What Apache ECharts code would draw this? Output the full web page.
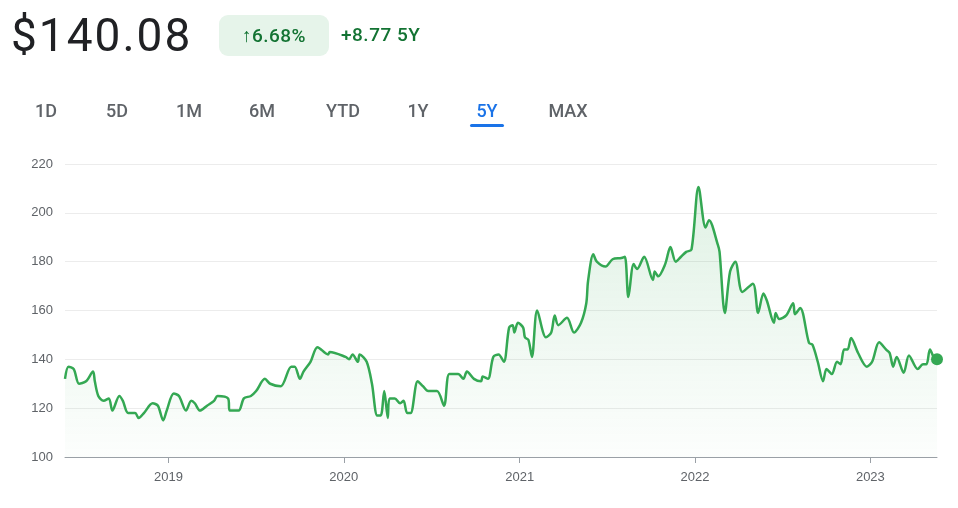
<!DOCTYPE html>
<html>
<head>
<meta charset="UTF-8">
<title>5Y price</title>
<script src="https://cdn.jsdelivr.net/npm/echarts@6/dist/echarts.min.js"></script>
<style>
body { margin: 0; background: #fff; font-family: Roboto, "Noto Sans", sans-serif; }
#wrap { position: relative; width: 958px; height: 508px; overflow: hidden; }
#chart { position: absolute; left: 0; top: 0; width: 958px; height: 508px; }
.abs { position: absolute; white-space: nowrap; }
#price { left: 11px; top: 8px; font-size: 46px; color: #202124; letter-spacing: 2px; }
#badge { left: 219px; top: 15px; width: 110px; height: 41px; background: #e6f4ea; border-radius: 9px;
  color: #137333; font-size: 19px; font-weight: 500; line-height: 41px; text-align: center; letter-spacing: 0.5px; }
#chg { left: 341px; top: 23px; font-size: 19px; font-weight: 500; color: #137333; letter-spacing: 0.5px; }
.tab { top: 100px; font-size: 18px; font-weight: 500; color: #5f6368; transform: translateX(-50%); }
.tab.on { color: #1a73e8; }
#ul { left: 470px; top: 124px; width: 34px; height: 3px; background: #1a73e8; border-radius: 2px; }
</style>
</head>
<body>
<div id="wrap">
<div id="chart"></div>
<div class="abs" id="price">$140.08</div>
<div class="abs" id="badge">↑6.68%</div>
<div class="abs" id="chg">+8.77 5Y</div>
<div id="tabs"></div>
<div class="abs" id="ul"></div>
</div>
<script>
// time of each reading, as decimal years
var years = [2018.41,2018.43,2018.46,2018.49,2018.53,2018.57,2018.58,2018.60,2018.63,2018.66,2018.68,2018.72,2018.74,2018.77,2018.81,2018.83,2018.86,2018.91,2018.94,2018.97,2018.99,
2019.03,2019.06,2019.10,2019.13,2019.15,2019.18,2019.22,2019.26,2019.28,2019.34,2019.35,2019.40,2019.43,2019.47,2019.50,2019.55,2019.58,2019.64,2019.70,2019.72,2019.75,2019.77,2019.81,2019.85,2019.91,2019.92,2020.01,
2020.03,2020.05,2020.08,2020.09,2020.13,2020.16,2020.19,2020.21,2020.23,2020.25,2020.26,2020.29,2020.32,2020.34,2020.36,2020.38,2020.42,2020.45,2020.48,2020.53,2020.57,2020.60,2020.65,2020.68,2020.70,2020.74,2020.78,2020.79,2020.82,2020.85,2020.88,2020.91,2020.94,2020.96,2020.97,2020.99,
2021.02,2021.03,2021.05,2021.07,2021.10,2021.15,2021.18,2021.20,2021.22,2021.27,2021.31,2021.35,2021.38,2021.39,2021.42,2021.44,2021.49,2021.53,2021.58,2021.60,2021.62,2021.65,2021.67,2021.71,2021.76,2021.77,2021.79,2021.83,2021.86,2021.89,2021.92,2021.95,2021.98,
2022.02,2022.06,2022.08,2022.13,2022.14,2022.17,2022.20,2022.23,2022.27,2022.33,2022.36,2022.39,2022.41,2022.45,2022.46,2022.48,2022.52,2022.56,2022.57,2022.60,2022.65,2022.67,2022.70,2022.73,2022.75,2022.78,2022.81,2022.83,2022.85,2022.87,2022.89,2022.93,2022.98,
2023.01,2023.05,2023.09,2023.11,2023.13,2023.15,2023.19,2023.22,2023.27,2023.30,2023.32,2023.34,2023.37,2023.38];
var prices = [132,137,136,130,131,135,131,125,123,124,119,125,123,118,118,116,118,122,121,115,119,
126,125,119,123,122,119,121,123,125,124,119,119,124,125,127,132,130,129,137,137,132,135,139,145,142,143,141,
140,142,139,142,139,130,117,117,127,116,124,124,122,123,118,118,131,129,127,127,121,134,134,132,135,132,131,133,132,141,142,139,153,154,151,155,
153,149,148,141,160,149,151,158,154,157,151,155,163,172,183,180,178,181,181.5,182,165.5,179,177,182,172.5,176,174,179,186,180,182,184,185,
210.6,194,197,187,184,159,176,180,167.6,171,159,167,164,155,159,156.5,158,163,158.5,161,146.7,146,139,131,136,134,139,138,144,144,148.7,142.6,137,
139,147,144,142.6,137,141,134.5,141.6,136,138,138,144,140,140.08];
var yTicks = [100, 220, 20]; // min, max, step
var tabs = ['1D','5D','1M','6M','YTD','1Y','5Y','MAX'];
var tabX = [46,117,189,262,343,418,487,568];

var tabsEl = document.getElementById('tabs');
tabs.forEach(function(t, i) {
  var d = document.createElement('div');
  d.className = 'abs tab' + (t === '5Y' ? ' on' : '');
  d.style.left = tabX[i] + 'px';
  d.textContent = t;
  tabsEl.appendChild(d);
});

function toTime(y) {
  var yr = Math.floor(y);
  var start = Date.UTC(yr, 0, 1), end = Date.UTC(yr + 1, 0, 1);
  return start + (y - yr) * (end - start);
}
var data = years.map(function(y, i) { return [toTime(y), prices[i]]; });
var last = data[data.length - 1];

var myChart = echarts.init(document.getElementById('chart'));
myChart.setOption({
  animation: false,
  grid: { left: 65, right: 21, top: 164, bottom: 51 },
  xAxis: {
    type: 'time',
    min: data[0][0],
    max: last[0],
    splitNumber: 5,
    axisLine: { lineStyle: { color: '#9aa0a6', width: 1 } },
    axisTick: { show: true, length: 6, lineStyle: { color: '#9aa0a6' },
      interval: function(i, v) { var d = new Date(v); return d.getUTCMonth() === 0 && d.getUTCDate() === 1; } },
    splitLine: { show: false },
    minorTick: { show: false },
    axisLabel: {
      color: '#5f6368', fontSize: 13, margin: 14,
      formatter: function(v) {
        var d = new Date(v);
        return (d.getUTCMonth() === 0 && d.getUTCDate() === 1) ? String(d.getUTCFullYear()) : '';
      }
    }
  },
  yAxis: {
    type: 'value', min: yTicks[0], max: yTicks[1], interval: yTicks[2],
    axisLine: { show: false }, axisTick: { show: false },
    axisLabel: { color: '#5f6368', fontSize: 13, margin: 12 },
    splitLine: { lineStyle: { color: '#ececec' } }
  },
  series: [{
    type: 'line',
    data: data,
    smooth: 0.3,
    symbol: 'none',
    lineStyle: { color: '#34a853', width: 2.5 },
    areaStyle: {
      color: new echarts.graphic.LinearGradient(0, 0, 0, 1, [
        { offset: 0, color: 'rgba(52,168,83,0.22)' },
        { offset: 1, color: 'rgba(52,168,83,0.02)' }
      ])
    }
  }, {
    type: 'scatter',
    data: [last],
    symbolSize: 12,
    itemStyle: { color: '#34a853', opacity: 1 }
  }]
});
</script>
</body>
</html>
